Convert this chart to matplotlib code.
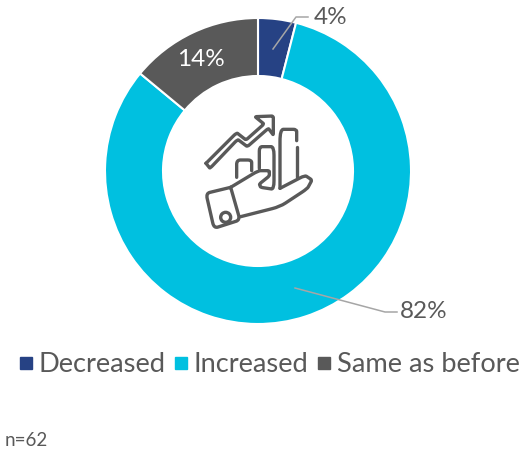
import matplotlib
matplotlib.use('Agg')
import matplotlib.pyplot as plt
from matplotlib.lines import Line2D
from matplotlib.patches import Circle, PathPatch
from matplotlib.path import Path

categories = ['Decreased', 'Increased', 'Same as before']
values = [4, 82, 14]
colors = ['#264284', '#00C0E0', '#595959']
TEXT = '#595959'
LEADER = '#A6A6A6'

plt.rcParams['font.family'] = ['Lato', 'DejaVu Sans']

fig = plt.figure(figsize=(5.2, 4.49), dpi=100, facecolor='white')
ax = fig.add_axes([0, 0, 1, 1])

# y axis is inverted, so counterclock=True runs clockwise on screen
cx, cy, r = 258, 171, 153
wedges, _ = ax.pie(values, colors=colors, startangle=-90, counterclock=True,
                   center=(cx, cy), radius=r, frame=True,
                   wedgeprops=dict(width=58, edgecolor='white', linewidth=1.5))
ax.set_xlim(0, 520)
ax.set_ylim(449, 0)
ax.set_aspect('equal')
ax.axis('off')

# leader lines
ax.plot([273, 296, 308], [49, 17, 17], color=LEADER, lw=1.1)
ax.plot([295, 385, 397], [288, 312, 312], color=LEADER, lw=1.1)

# labels
ax.text(331, 18, f'{values[0]}%', color=TEXT, fontsize=17.5, ha='center', va='center')
ax.text(424, 311, f'{values[1]}%', color=TEXT, fontsize=17.5, ha='center', va='center')
ax.text(201, 59, f'{values[2]}%', color='white', fontsize=17.5, ha='center', va='center')
ax.text(5, 440, 'n=62', color=TEXT, fontsize=13.5, ha='left', va='center')


# icon, sketched in crop coordinates of the picture, corners rounded
def icon_line(pts, rnd=0.4):
    pts = [(190 + p[0] / 3, 100 + p[1] / 3) for p in pts]
    verts = [pts[0]]
    codes = [Path.MOVETO]
    for i in range(1, len(pts) - 1):
        p0, p1, p2 = pts[i - 1], pts[i], pts[i + 1]
        a = (p1[0] + (p0[0] - p1[0]) * rnd, p1[1] + (p0[1] - p1[1]) * rnd)
        b = (p1[0] + (p2[0] - p1[0]) * rnd, p1[1] + (p2[1] - p1[1]) * rnd)
        verts += [a, p1, b]
        codes += [Path.LINETO, Path.CURVE3, Path.CURVE3]
    verts.append(pts[-1])
    codes.append(Path.LINETO)
    ax.add_patch(PathPatch(Path(verts, codes), fill=False, edgecolor=TEXT, lw=2.4,
                           capstyle='round', joinstyle='round'))


icon_line([(48, 190), (140, 98), (168, 120), (222, 72), (195, 50), (250, 48), (250, 105),
           (235, 85), (172, 140), (143, 118), (60, 205), (48, 190)], rnd=0.1)
icon_line([(140, 232), (140, 180), (185, 180), (185, 212)], rnd=0.25)
icon_line([(208, 205), (208, 140), (252, 140), (252, 268), (212, 262),
           (208, 252), (238, 228), (238, 212), (205, 212), (122, 262)], rnd=0.2)
icon_line([(270, 265), (270, 88), (320, 88), (320, 122)], rnd=0.2)
icon_line([(320, 140), (320, 232)])
icon_line([(122, 262), (48, 280), (72, 385), (150, 360), (122, 262)], rnd=0.15)
icon_line([(270, 265), (345, 226), (366, 240), (352, 266), (270, 320), (152, 350)], rnd=0.2)
ax.add_patch(Circle((190 + 107 / 3, 100 + 352 / 3), 5, fill=False, edgecolor=TEXT, lw=2.4))

# legend
handles = [Line2D([], [], marker='s', linestyle='none', color=c, markersize=9) for c in colors]
ax.legend(handles, categories, ncol=3, loc='center', bbox_to_anchor=(266 / 520, 1 - 365 / 449),
          bbox_transform=fig.transFigure, frameon=False, fontsize=19.6, labelcolor=TEXT,
          handletextpad=-0.04, columnspacing=0.08, handlelength=1.0, borderpad=0)

fig.savefig('out.png', dpi=100)
